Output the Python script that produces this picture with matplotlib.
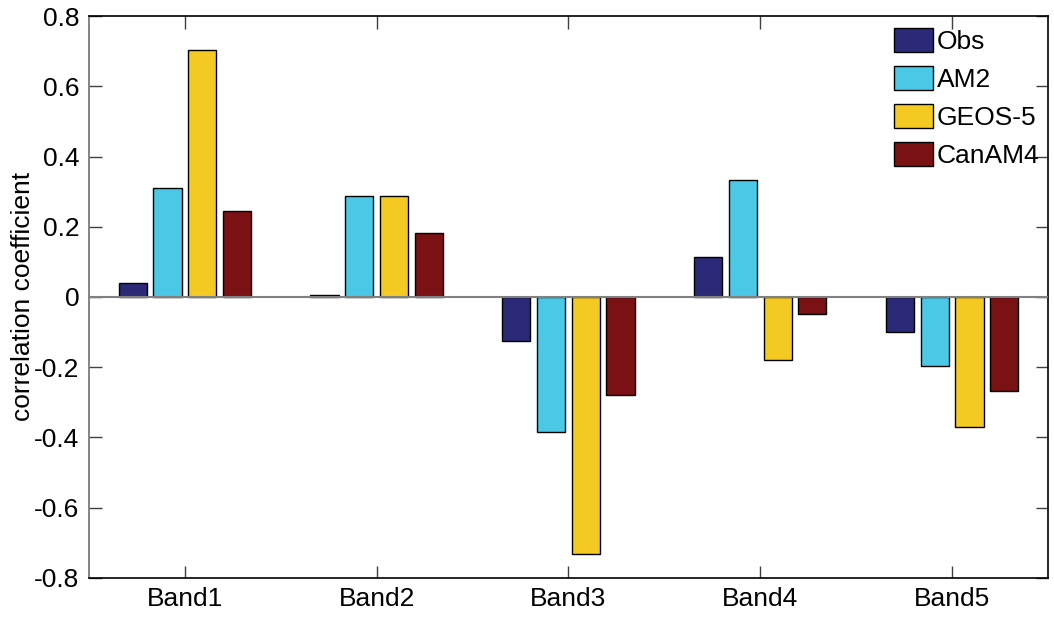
import numpy as np
import matplotlib.pyplot as plt
from matplotlib.ticker import FixedLocator

# Data ------------------------------------------------------------------------
bands = ['Band1', 'Band2', 'Band3', 'Band4', 'Band5']
series = ['Obs', 'AM2', 'GEOS-5', 'CanAM4']
obs = [0.041, 0.005, -0.125, 0.115, -0.101]
am2 = [0.311, 0.288, -0.386, 0.334, -0.197]
geos5 = [0.703, 0.288, -0.733, -0.181, -0.371]
canam4 = [0.245, 0.181, -0.280, -0.050, -0.267]
colors = ['#2a2a78', '#4ac8e6', '#f4ca22', '#7a1214']

plt.rcParams['font.family'] = ['Liberation Sans', 'DejaVu Sans']

fig = plt.figure(figsize=(10.54, 6.2), dpi=100)
ax = fig.add_axes([0.0844, 0.0682, 0.9099, 0.9058])

x = np.arange(1, len(bands) + 1)
step, width = 0.181, 0.147
for i, (vals, name) in enumerate(zip([obs, am2, geos5, canam4], series)):
    ax.bar(x + (i - 1.5) * step, vals, width, color=colors[i],
           edgecolor='black', linewidth=1.0, label=name, zorder=2)

ax.axhline(0, color='#808080', linewidth=1.5, zorder=3)
ax.set_xlim(0.5, 5.5)
ax.set_ylim(-0.8, 0.8)
ax.set_xticks(x)
ax.set_xticklabels(bands)
ax.yaxis.set_major_locator(FixedLocator(np.arange(-0.8, 0.81, 0.2)))
ax.set_yticklabels(['-0.8', '-0.6', '-0.4', '-0.2', '0', '0.2', '0.4', '0.6', '0.8'])
ax.tick_params(direction='in', length=9, width=1, top=True, right=True,
               labelsize=19, color='#404040', pad=7)
for s in ax.spines.values():
    s.set_color('black')
    s.set_linewidth(1.2)
ax.spines['left'].set_color('#707070')
ax.set_ylabel('correlation coefficient', fontsize=19, labelpad=-1)

ax.legend(loc='upper left', frameon=False, fontsize=19,
          handlelength=1.48, handleheight=1.0, handletextpad=0.15,
          labelspacing=0.46, borderpad=0, borderaxespad=0,
          bbox_to_anchor=(0.839, 0.978))

fig.savefig('out.png', dpi=100)
